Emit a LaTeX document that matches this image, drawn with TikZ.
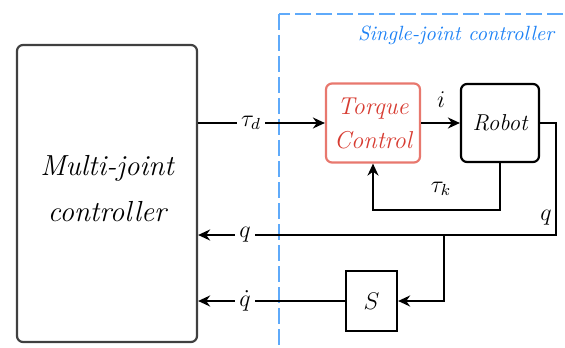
\documentclass[tikz,border=0pt]{standalone}
\usetikzlibrary{arrows.meta}
\definecolor{dashblue}{RGB}{95,170,250}
\definecolor{textblue}{RGB}{30,130,245}
\definecolor{tcred}{RGB}{232,120,110}
\definecolor{tctext}{RGB}{215,60,50}
\tikzset{
  blk/.style={draw, line width=1.1pt, rounded corners=3pt, inner sep=0pt, align=center, font=\itshape},
  wire/.style={line width=1.1pt},
  arr/.style={wire, -{Stealth[length=6pt,width=5.5pt]}},
  lbl/.style={inner sep=2pt, font=\large}
}
\begin{document}
\begin{tikzpicture}[x=0.5pt,y=-0.5pt]
\useasboundingbox (0,0) rectangle (565,347);
\begin{scope}
\clip (0,0) rectangle (565,347);
\draw[dashblue, line width=1.1pt, dash pattern=on 8pt off 2.5pt] (279,14) rectangle (590,370);
\end{scope}
\node[anchor=east, text=textblue, font=\itshape\fontsize{10.3}{12}\selectfont] (sjc) at (561,35) {Single-joint controller};

\node[blk, draw=black!75, minimum width=90pt, minimum height=148.5pt] (mj) at (107,193.5) {};
\node[align=center, font=\itshape\fontsize{14.5}{23}\selectfont] (mjt) at (107,189) {Multi-joint\\controller};
\node[blk, draw=tcred, text=tctext, minimum width=47pt, minimum height=39.5pt, font=\itshape\fontsize{12.2}{17}\selectfont] (tc) at (373,123) {Torque\\Control};
\node[blk, minimum width=39pt, minimum height=39pt, font=\itshape\fontsize{11.5}{13}\selectfont] (rob) at (500,123) {Robot};
\node[draw, line width=1.1pt, inner sep=0pt, minimum width=25.5pt, minimum height=30pt, font=\large] (sb) at (371.5,301) {$S$};

\node[lbl] (td) at (251,123) {$\tau_d$};
\node[lbl] (il) at (441,100) {$i$};
\node[lbl] (tk) at (441,189) {$\tau_k$};
\node[lbl] (qr) at (546,218) {$q$};
\node[lbl] (ql) at (245,235) {$q$};
\node[lbl] (qd) at (245,301) {$\dot q$};

\coordinate (c1) at (556,123);
\coordinate (c2) at (556,235);
\coordinate (c3) at (444,235);
\coordinate (c4) at (444,301);
\coordinate (c5) at (500,210);
\coordinate (c6) at (373,210);

\draw[wire] (mj.east |- td) -- (td.west);
\draw[arr] (td.east) -- (tc.west |- td);
\draw[arr] (tc.east) -- (rob.west);
\draw[wire] (rob.east) -- (c1) -- (c2) -- (ql.east);
\draw[arr] (ql.west) -- (mj.east |- ql);
\draw[arr] (rob.south) -- (c5) -- (c6) -- (tc.south);
\draw[arr] (c3) -- (c4) -- (sb.east);
\draw[wire] (sb.west) -- (qd.east);
\draw[arr] (qd.west) -- (mj.east |- qd);
\end{tikzpicture}
\end{document}
